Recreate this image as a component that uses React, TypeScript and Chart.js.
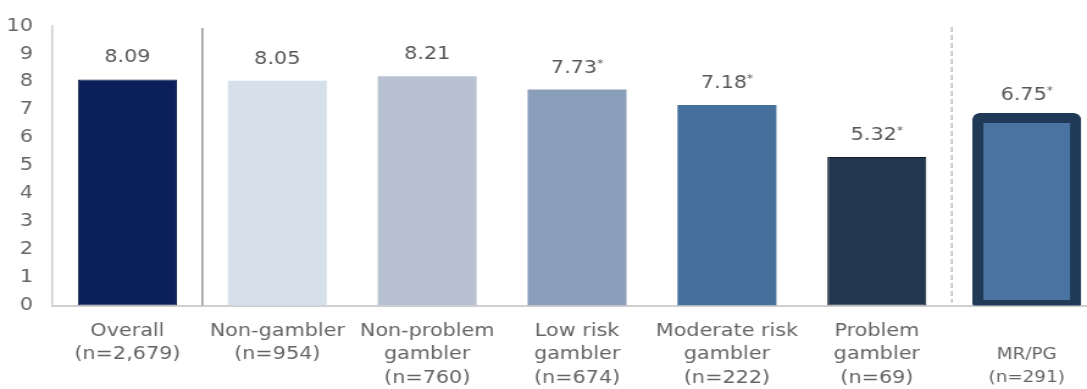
import React, { useEffect, useRef } from "react";
import { Chart, registerables } from "chart.js";

Chart.register(...registerables);

// ---- data ----
const categories: string[][] = [
  ["Overall", "(n=2,679)"],
  ["Non-gambler", "(n=954)"],
  ["Non-problem", "gambler", "(n=760)"],
  ["Low risk", "gambler", "(n=674)"],
  ["Moderate risk", "gambler", "(n=222)"],
  ["Problem", "gambler", "(n=69)"],
  ["", "MR/PG", "(n=291)"],
];
const values: number[] = [8.09, 8.05, 8.21, 7.73, 7.18, 5.32, 6.75];
const significant: boolean[] = [false, false, false, true, true, true, true];
const barColors: string[] = ["#0b1f5a", "#d6e0ea", "#b7c1d2", "#8b9eb9", "#46709c", "#22364f", "#4a73a1"];
const barBorderColors: string[] = ["#0a1740", "#d6e0ea", "#b7c1d2", "#8b9eb9", "#46709c", "#111c2a", "#1f3957"];
const yMin = 0;
const yMax = 10;
const yStep = 1;

const FONT = "'DejaVu Sans', sans-serif";
const TEXT_COLOR = "#646464";
const STRETCH = 1.22;
const CW = 903;
const CH = 389;

export default function App() {
  const ref = useRef<HTMLCanvasElement | null>(null);

  useEffect(() => {
    const canvas = ref.current;
    if (!canvas) return;

    const separators = {
      id: "separators",
      beforeDatasetsDraw(chart: any) {
        const ctx = chart.ctx;
        const xs = chart.scales.x;
        const bottom = chart.chartArea.bottom;
        ctx.save();
        // solid separator after "Overall"
        const x1 = xs.getPixelForValue(0.5);
        ctx.strokeStyle = "#9c9c9c";
        ctx.lineWidth = 1.6;
        ctx.beginPath();
        ctx.moveTo(x1, 28);
        ctx.lineTo(x1, bottom);
        ctx.stroke();
        // dashed separator before "MR/PG"
        const x2 = xs.getPixelForValue(5.5);
        ctx.strokeStyle = "#ababab";
        ctx.lineWidth = 1.2;
        ctx.setLineDash([5, 3]);
        ctx.beginPath();
        ctx.moveTo(x2, 27);
        ctx.lineTo(x2, bottom - 3);
        ctx.stroke();
        ctx.restore();
      },
    };

    const valueLabels = {
      id: "valueLabels",
      afterDatasetsDraw(chart: any) {
        const ctx = chart.ctx;
        const ys = chart.scales.y;
        const meta = chart.getDatasetMeta(0);
        ctx.save();
        ctx.fillStyle = "#575757";
        ctx.textBaseline = "middle";
        ctx.textAlign = "left";
        meta.data.forEach((el: any, i: number) => {
          const main = values[i].toFixed(2);
          const y = ys.getPixelForValue(values[i]) - 21.5;
          ctx.font = `17px ${FONT}`;
          const w = ctx.measureText(main).width;
          let aw = 0;
          if (significant[i]) {
            ctx.font = `10px ${FONT}`;
            aw = ctx.measureText("*").width;
          }
          const start = el.x - (w + aw) / 2;
          ctx.font = `17px ${FONT}`;
          ctx.fillText(main, start, y);
          if (significant[i]) {
            ctx.font = `10px ${FONT}`;
            ctx.fillText("*", start + w, y - 4);
          }
        });
        ctx.restore();
      },
    };

    const chart = new Chart(canvas, {
      type: "bar",
      data: {
        labels: categories,
        datasets: [
          {
            data: values,
            backgroundColor: barColors,
            borderColor: barBorderColors,
            borderWidth: [1, 0, 0, 0, 0, 1, { top: 10, left: 9, right: 9, bottom: 9.5 }] as any,
            borderRadius: [0, 0, 0, 0, 0, 0, 6] as any,
            borderSkipped: false,
            inflateAmount: ((c: any) => (c.dataIndex === 6 ? 4 : 0)) as any,
            barPercentage: 0.66,
            categoryPercentage: 1,
            clip: { left: false, top: false, right: false, bottom: 0 } as any,
          },
        ],
      },
      options: {
        responsive: false,
        animation: false,
        layout: { padding: { top: 24, left: 0, right: 0, bottom: 0 } },
        plugins: {
          legend: { display: false },
          tooltip: { enabled: false },
        },
        scales: {
          x: {
            grid: { display: false, drawTicks: false },
            border: { display: true, color: "#cfcfcf", width: 2 },
            ticks: {
              autoSkip: false,
              maxRotation: 0,
              minRotation: 0,
              padding: 14,
              color: TEXT_COLOR,
              font: ((c: any) =>
                c.index === 6
                  ? { family: FONT, size: 15, lineHeight: "23.5px" }
                  : { family: FONT, size: 17, lineHeight: "23.5px" }) as any,
            },
            afterFit: (scale: any) => {
              scale.height = 83.5;
            },
          },
          y: {
            min: yMin,
            max: yMax,
            grid: { display: false, drawTicks: false },
            border: { display: true, color: "#cfcfcf", width: 1.6 },
            ticks: {
              stepSize: yStep,
              padding: 16,
              color: TEXT_COLOR,
              font: { family: FONT, size: 17 },
            },
            afterFit: (scale: any) => {
              scale.width = 43;
            },
          },
        },
      },
      plugins: [separators, valueLabels],
    });

    return () => chart.destroy();
  }, []);

  return (
    <div
      style={{
        position: "fixed",
        left: 0,
        top: 0,
        width: 1087,
        height: 389,
        overflow: "hidden",
        background: "#ffffff",
      }}
    >
      <div style={{ transform: `scaleX(${STRETCH})`, transformOrigin: "0 0", width: CW, height: CH }}>
        <canvas ref={ref} width={CW} height={CH} style={{ display: "block", width: CW, height: CH }} />
      </div>
    </div>
  );
}
